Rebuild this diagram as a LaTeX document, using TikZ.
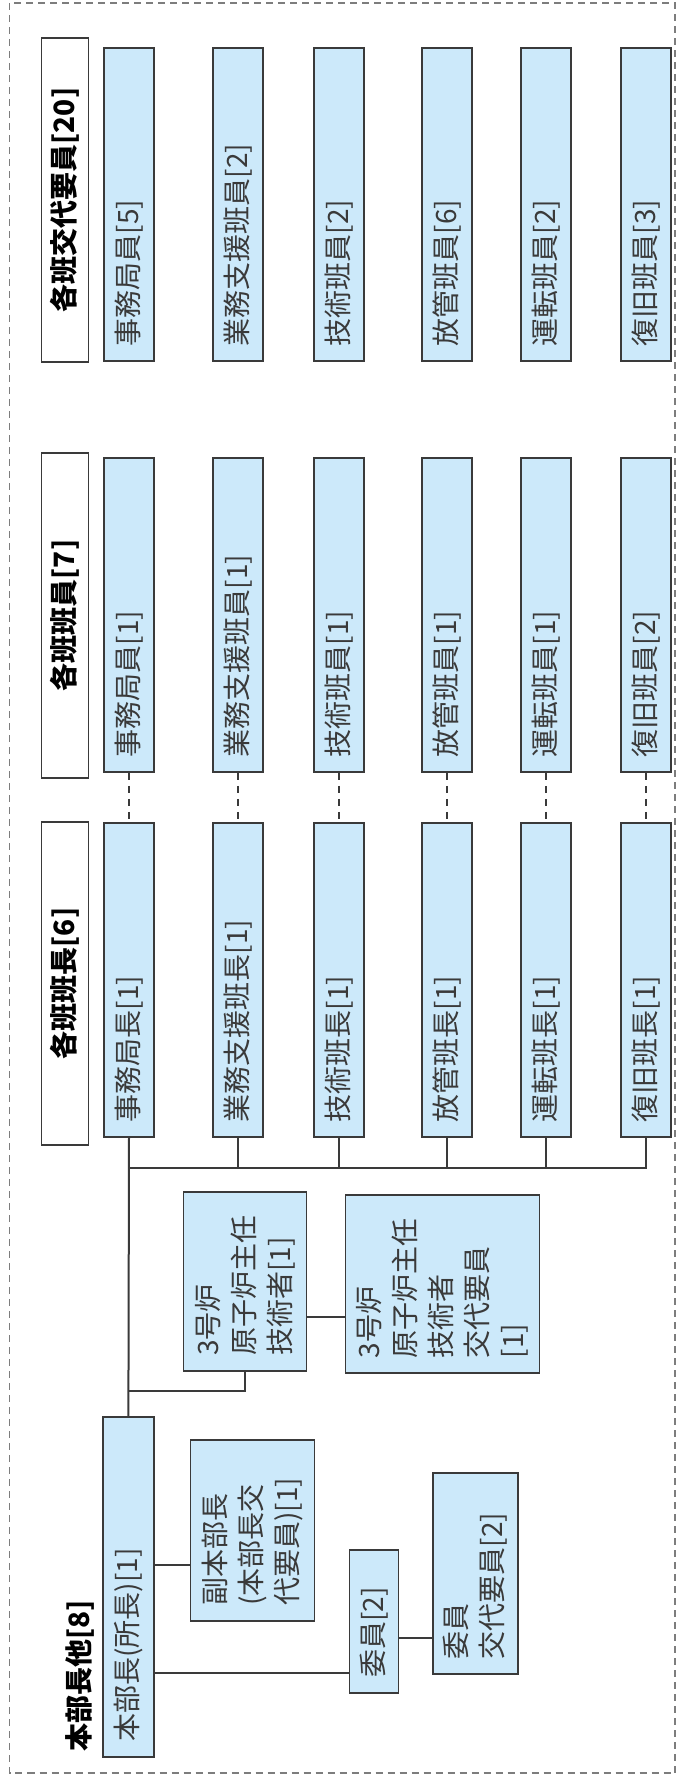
\documentclass[tikz,border=0pt]{standalone}
\usepackage{fontspec}
\usepackage{tikz}
\newfontfamily\jp{Noto Sans CJK JP}
\definecolor{boxblue}{RGB}{204,233,250}
\definecolor{edgegray}{RGB}{58,58,58}
\definecolor{framegray}{RGB}{125,125,125}

\begin{document}
\begin{tikzpicture}[x=1pt,y=-1pt,
    every node/.style={font=\jp\fontsize{28}{36}\selectfont, text=edgegray},
    ban/.style={draw=edgegray, line width=1.8pt, fill=boxblue, rotate=90,
        inner xsep=15pt, inner ysep=0pt, align=left, minimum height=50pt},
    head/.style={draw=edgegray, line width=1.8pt, fill=white, rotate=90,
        inner sep=0pt, minimum height=47pt,
        font=\jp\bfseries\fontsize{28}{36}\selectfont, text=black},
    link/.style={draw=edgegray, line width=2pt}]

    % 画面范围与外框（灰色虚线）
    \useasboundingbox (0,0) rectangle (677,1775);
    \draw[framegray, line width=1.5pt, dash pattern=on 7pt off 5pt] (9.5,3) rectangle (675,1773);

    % 三行标题
    \node[head, minimum width=324pt] (h1) at (65,200) {各班交代要員[20]};
    \node[head, minimum width=325pt] (h2) at (65,615.5) {各班班員[7]};
    \node[head, minimum width=323pt] (h3) at (65,983.5) {各班班長[6]};

    % 各班：交代要員 / 班員 / 班長
    \foreach \n/\x/\a/\b/\c in {1/129/事務局員[5]/事務局員[1]/事務局長[1],
        2/238/業務支援班員[2]/業務支援班員[1]/業務支援班長[1],
        3/339/技術班員[2]/技術班員[1]/技術班長[1],
        4/447/放管班員[6]/放管班員[1]/放管班長[1],
        5/546/運転班員[2]/運転班員[1]/運転班長[1],
        6/646/復旧班員[3]/復旧班員[2]/復旧班長[1]} {
        \node[ban, text width=283pt] (k\n) at (\x,204.5) {\a};
        \node[ban, text width=284pt] (m\n) at (\x,615) {\b};
        \node[ban, text width=284pt] (c\n) at (\x,980) {\c};
        \draw[link, dash pattern=on 7pt off 6pt] (m\n.west) -- (c\n.east);
    }

    % 本部长及其下属
    \node[ban, text width=310pt, minimum height=51pt] (hq) at (128.4,1586.7) {本部長(所長)[1]};
    \node[ban, text width=150.7pt, minimum height=124pt] (fuku) at (252.4,1530.4) {副本部長\\(本部長交\\代要員)[1]};
    \node[ban, text width=112.7pt, minimum height=49pt] (iin) at (374,1621.4) {委員[2]};
    \node[ban, text width=171.3pt, minimum height=85.4pt] (ikotai) at (475.3,1573.4) {委員\\交代要員[2]};
    \node[ban, text width=149pt, minimum height=123pt] (shunin) at (245,1281.2) {3号炉\\原子炉主任\\技術者[1]};
    \node[ban, text width=148pt, minimum height=194pt] (kotai) at (442.5,1284) {3号炉\\原子炉主任\\技術者\\交代要員\\{[1]}};
    \node[rotate=90, anchor=west, inner sep=0pt, text=black,
        font=\jp\bfseries\fontsize{28}{36}\selectfont] (zhu) at (80,1752) {本部長他[8]};

    % 连线
    \coordinate (bus) at (128.4,1168);
    \coordinate (jn) at (128.4,1390.7);
    \draw[link] (c1.west) -- (hq.east);
    \foreach \n in {2,...,6} \draw[link] (c\n.west) |- (bus);
    \draw[link] (shunin.west) |- (jn);

    \coordinate (y1) at (0,1317);
    \coordinate (y2) at (0,1565);
    \coordinate (y3) at (0,1672.7);
    \coordinate (y4) at (0,1637.7);
    \draw[link] (shunin.south |- y1) -- (kotai.north |- y1);
    \draw[link] (hq.south |- y2) -- (fuku.north |- y2);
    \draw[link] (hq.south |- y3) -- (iin.north |- y3);
    \draw[link] (iin.south |- y4) -- (ikotai.north |- y4);
\end{tikzpicture}
\end{document}
